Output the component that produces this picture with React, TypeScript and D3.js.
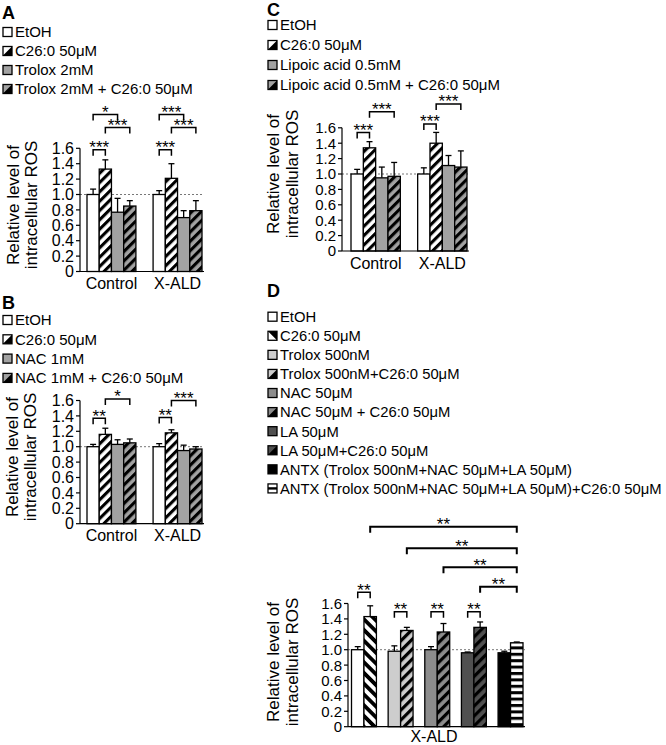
import React from "react";
import * as d3 from "d3";

const FONT = "'Liberation Sans', Arial, Helvetica, sans-serif";

// ---------------- data ----------------
const tickValues = [0, 0.2, 0.4, 0.6, 0.8, 1.0, 1.2, 1.4, 1.6];
const tickLabels = ["0", "0.2", "0.4", "0.6", "0.8", "1.0", "1.2", "1.4", "1.6"];
const groups = ["Control", "X-ALD"];

const seriesA = ["EtOH", "C26:0 50μM", "Trolox 2mM", "Trolox 2mM + C26:0 50μM"];
const meansA = [[1.0, 1.33, 0.77, 0.85], [1.0, 1.21, 0.70, 0.79]];
const errsA = [[0.07, 0.12, 0.18, 0.07], [0.05, 0.19, 0.09, 0.13]];
const bracketsA = [
  { group: 0, from: 0, to: 1, level: 1.58, label: "***" },
  { group: 0, from: 0, to: 2, level: 2.04, label: "*" },
  { group: 0, from: 1, to: 3, level: 1.87, label: "***" },
  { group: 1, from: 0, to: 1, level: 1.58, label: "***" },
  { group: 1, from: 0, to: 2, level: 2.04, label: "***" },
  { group: 1, from: 1, to: 3, level: 1.87, label: "***" },
];

const seriesB = ["EtOH", "C26:0 50μM", "NAC 1mM", "NAC 1mM + C26:0 50μM"];
const meansB = [[1.0, 1.16, 1.03, 1.05], [1.0, 1.18, 0.95, 0.97]];
const errsB = [[0.03, 0.08, 0.06, 0.05], [0.04, 0.04, 0.07, 0.03]];
const bracketsB = [
  { group: 0, from: 0, to: 1, level: 1.37, label: "**" },
  { group: 0, from: 1, to: 3, level: 1.62, label: "*" },
  { group: 1, from: 0, to: 1, level: 1.38, label: "**" },
  { group: 1, from: 1, to: 3, level: 1.60, label: "***" },
];

const seriesC = ["EtOH", "C26:0 50μM", "Lipoic acid 0.5mM", "Lipoic acid 0.5mM + C26:0 50μM"];
const meansC = [[1.0, 1.34, 0.95, 0.97], [1.0, 1.40, 1.11, 1.09]];
const errsC = [[0.06, 0.08, 0.14, 0.18], [0.08, 0.14, 0.13, 0.21]];
const bracketsC = [
  { group: 0, from: 0, to: 1, level: 1.54, label: "***" },
  { group: 0, from: 1, to: 3, level: 1.81, label: "***" },
  { group: 1, from: 0, to: 1, level: 1.65, label: "***" },
  { group: 1, from: 1, to: 3, level: 1.91, label: "***" },
];

const seriesD = [
  "EtOH",
  "C26:0 50μM",
  "Trolox 500nM",
  "Trolox 500nM+C26:0 50μM",
  "NAC 50μM",
  "NAC 50μM + C26:0 50μM",
  "LA 50μM",
  "LA 50μM+C26:0 50μM",
  "ANTX (Trolox 500nM+NAC 50μM+LA 50μM)",
  "ANTX (Trolox 500nM+NAC 50μM+LA 50μM)+C26:0 50μM",
];
const meansD = [1.0, 1.43, 0.98, 1.25, 1.0, 1.23, 0.96, 1.29, 0.96, 1.09];
const errsD = [0.04, 0.14, 0.07, 0.04, 0.04, 0.11, 0.01, 0.07, 0.02, 0.01];
const groupD = "X-ALD";
const bracketsD = [
  { from: 0, to: 1, level: 1.745, label: "**", long: false },
  { from: 2, to: 3, level: 1.494, label: "**", long: false },
  { from: 4, to: 5, level: 1.494, label: "**", long: false },
  { from: 6, to: 7, level: 1.494, label: "**", long: false },
  { from: 1, to: 9, level: 2.597, label: "**", long: true },
  { from: 3, to: 9, level: 2.317, label: "**", long: true },
  { from: 5, to: 9, level: 2.07, label: "**", long: true },
  { from: 7, to: 9, level: 1.818, label: "**", long: true },
];

const yTitle = ["Relative level of", "intracellular ROS"];

// ---------------- styles ----------------
const GRAY_ABC = "#a2a2a2";
const D_LIGHT = "#cdcdcd";
const D_MID = "#8c8c8c";
const D_DARK = "#505050";

type Icon = { bg: string; mark?: "/" | "\\" | "h" };
const fillsA = ["#fff", "url(#hW)", GRAY_ABC, "url(#hG)"];
const iconsABC: Icon[] = [{ bg: "#fff" }, { bg: "#fff", mark: "/" }, { bg: GRAY_ABC }, { bg: GRAY_ABC, mark: "/" }];
const fillsD = ["#fff", "url(#bW)", D_LIGHT, "url(#hL)", D_MID, "url(#hM)", D_DARK, "url(#hD)", "#000", "url(#hz)"];
const iconsD: Icon[] = [
  { bg: "#fff" }, { bg: "#fff", mark: "\\" }, { bg: D_LIGHT }, { bg: D_LIGHT, mark: "/" },
  { bg: D_MID }, { bg: D_MID, mark: "/" }, { bg: D_DARK }, { bg: D_DARK, mark: "/" },
  { bg: "#000" }, { bg: "#fff", mark: "h" },
];

const PX_PER_UNIT = 77;
const STAR_FS = 17;

function Defs() {
  const diag = (id: string, bg: string, angle: number, p: number, sw: number) => (
    <pattern id={id} patternUnits="userSpaceOnUse" width={p} height={p} patternTransform={`rotate(${angle})`}>
      <rect width={p} height={p} fill={bg} />
      <rect width={sw} height={p} fill="#000" />
    </pattern>
  );
  return (
    <defs>
      {diag("hW", "#fff", 45, 6.6, 3.1)}
      {diag("hG", GRAY_ABC, 45, 6.6, 3.1)}
      {diag("bW", "#fff", -45, 7.6, 3.8)}
      {diag("hL", D_LIGHT, 45, 7, 3.2)}
      {diag("hM", D_MID, 45, 7, 3.2)}
      {diag("hD", D_DARK, 45, 7, 3.2)}
      <pattern id="hz" patternUnits="userSpaceOnUse" width={6} height={6.4}>
        <rect width={6} height={6.4} fill="#fff" />
        <rect width={6} height={3} fill="#000" />
      </pattern>
    </defs>
  );
}

function LegendIcon({ x, y, s, icon }: { x: number; y: number; s: number; icon: Icon }) {
  let mark: React.ReactNode = null;
  if (icon.mark === "/") mark = <polygon points={`${x + s},${y} ${x + s},${y + s} ${x},${y + s}`} fill="#000" />;
  if (icon.mark === "\\") mark = <polygon points={`${x},${y} ${x + s},${y} ${x + s},${y + s}`} fill="#000" />;
  if (icon.mark === "h") mark = <rect x={x} y={y + s / 2 - 1.2} width={s} height={2.4} fill="#000" />;
  return (
    <g>
      <rect x={x} y={y} width={s} height={s} fill={icon.bg} />
      {mark}
      <rect x={x} y={y} width={s} height={s} fill="none" stroke="#000" strokeWidth={1.3} />
    </g>
  );
}

function Legend({ labels, icons, x, y0, step, fs }: { labels: string[]; icons: Icon[]; x: number; y0: number; step: number; fs: number }) {
  return (
    <g>
      {labels.map((l, i) => {
        const cy = y0 + i * step;
        return (
          <g key={i}>
            <LegendIcon x={x} y={cy - 4.5} s={9} icon={icons[i]} />
            <text x={x + 12} y={cy + 0.36 * fs} fontSize={fs} fill="#000">{l}</text>
          </g>
        );
      })}
    </g>
  );
}

function YAxis({ y, axisX, fs }: { y: d3.ScaleLinear<number, number>; axisX: number; fs: number }) {
  return (
    <g>
      <line x1={axisX} x2={axisX} y1={y(0)} y2={y(1.6)} stroke="#000" strokeWidth={1.2} />
      {tickValues.map((v, i) => (
        <g key={i}>
          <line x1={axisX - 4} x2={axisX} y1={y(v)} y2={y(v)} stroke="#000" strokeWidth={1.2} />
          <text x={axisX - 6} y={y(v) + 0.36 * fs} fontSize={fs} textAnchor="end">{tickLabels[i]}</text>
        </g>
      ))}
    </g>
  );
}

function YTitle({ x1, x2, cy, fs }: { x1: number; x2: number; cy: number; fs: number }) {
  return (
    <g>
      {[x1, x2].map((x, i) => (
        <text key={i} transform={`translate(${x},${cy}) rotate(-90)`} dy="0.36em" textAnchor="middle" fontSize={fs}>
          {yTitle[i]}
        </text>
      ))}
    </g>
  );
}

function Bracket({ x1, x2, top, label, sw, leg }: { x1: number; x2: number; top: number; label: string; sw: number; leg: number }) {
  return (
    <g>
      <path d={`M${x1},${top + leg}V${top}H${x2}V${top + leg}`} fill="none" stroke="#000" strokeWidth={sw} />
      <text x={(x1 + x2) / 2} y={top + 3.5} fontSize={STAR_FS} textAnchor="middle">{label}</text>
    </g>
  );
}

type GLayout = {
  letter: string; letterX: number; letterY: number;
  legendX: number; legendY: number; legendStep: number;
  axisX: number; barStart: number; barEnd: number; xEnd: number; y0: number;
  tickFs: number; titleX1: number; titleX2: number; titleCy: number;
};

function GroupPanel({ L, series, means, errs, fills, icons, brackets }: {
  L: GLayout; series: string[]; means: number[][]; errs: number[][]; fills: string[]; icons: Icon[];
  brackets: { group: number; from: number; to: number; level: number; label: string }[];
}) {
  const y = d3.scaleLinear().domain([0, 1.6]).range([L.y0, L.y0 - 1.6 * PX_PER_UNIT]);
  const outer = d3.scaleBand<string>().domain(groups).range([L.barStart, L.barEnd]).paddingInner(0.26).paddingOuter(0);
  const inner = d3.scaleBand<number>().domain(d3.range(series.length)).range([0, outer.bandwidth()]);
  const cx = (g: number, s: number) => (outer(groups[g]) as number) + (inner(s) as number) + inner.bandwidth() / 2;
  return (
    <g>
      <text x={L.letterX} y={L.letterY} fontSize={18} fontWeight="bold">{L.letter}</text>
      <Legend labels={series} icons={icons} x={L.legendX} y0={L.legendY} step={L.legendStep} fs={15} />
      <line x1={L.axisX} x2={L.xEnd} y1={y(1)} y2={y(1)} stroke="#777" strokeDasharray="2,2" strokeWidth={1} />
      {groups.map((g, gi) => (
        <g key={g}>
          {series.map((_, si) => {
            const x = (outer(g) as number) + (inner(si) as number);
            const w = inner.bandwidth();
            const m = means[gi][si];
            const e = errs[gi][si];
            return (
              <g key={si}>
                <line x1={x + w / 2} x2={x + w / 2} y1={y(m)} y2={y(m + e)} stroke="#000" strokeWidth={1.3} />
                <line x1={x + w / 2 - 3} x2={x + w / 2 + 3} y1={y(m + e)} y2={y(m + e)} stroke="#000" strokeWidth={1.3} />
                <rect x={x} y={y(m)} width={w} height={y(0) - y(m)} fill={fills[si]} stroke="#000" strokeWidth={1.3} />
              </g>
            );
          })}
          <text x={(outer(g) as number) + outer.bandwidth() / 2} y={L.y0 + 17.5} fontSize={16} textAnchor="middle">{g}</text>
        </g>
      ))}
      <line x1={L.axisX} x2={L.xEnd} y1={y(0)} y2={y(0)} stroke="#000" strokeWidth={1.2} />
      <YAxis y={y} axisX={L.axisX} fs={L.tickFs} />
      <YTitle x1={L.titleX1} x2={L.titleX2} cy={L.titleCy} fs={17} />
      {brackets.map((b, i) => (
        <Bracket key={i} x1={cx(b.group, b.from)} x2={cx(b.group, b.to)} top={y(b.level)} label={b.label} sw={1.5} leg={6} />
      ))}
    </g>
  );
}

const layoutA: GLayout = {
  letter: "A", letterX: 2, letterY: 19, legendX: 3, legendY: 32, legendStep: 19,
  axisX: 80, barStart: 87, barEnd: 202, xEnd: 204, y0: 271.5,
  tickFs: 16, titleX1: 13, titleX2: 31, titleCy: 205,
};
const layoutB: GLayout = {
  letter: "B", letterX: 2, letterY: 309, legendX: 3, legendY: 320, legendStep: 19.3,
  axisX: 80, barStart: 87, barEnd: 202, xEnd: 204, y0: 523.7,
  tickFs: 16, titleX1: 12, titleX2: 30, titleCy: 457,
};
const layoutC: GLayout = {
  letter: "C", letterX: 267, letterY: 16, legendX: 268, legendY: 25, legendStep: 20,
  axisX: 342, barStart: 351, barEnd: 467, xEnd: 469, y0: 251,
  tickFs: 15, titleX1: 273, titleX2: 292, titleCy: 174,
};

function PanelD() {
  const y0 = 726.7;
  const axisX = 348;
  const y = d3.scaleLinear().domain([0, 1.6]).range([y0, y0 - 1.6 * PX_PER_UNIT]);
  const pairs = d3.range(seriesD.length / 2);
  const outer = d3.scaleBand<number>().domain(pairs).range([351.5, 523]).paddingInner(0.32).paddingOuter(0);
  const inner = d3.scaleBand<number>().domain([0, 1]).range([0, outer.bandwidth()]);
  const bx = (i: number) => (outer(Math.floor(i / 2)) as number) + (inner(i % 2) as number);
  const w = inner.bandwidth();
  return (
    <g>
      <text x={267} y={297} fontSize={18} fontWeight="bold">D</text>
      <Legend labels={seriesD} icons={iconsD} x={268} y0={316.7} step={19.08} fs={14.8} />
      <line x1={axisX} x2={525} y1={y(1)} y2={y(1)} stroke="#777" strokeDasharray="2,2" strokeWidth={1} />
      {seriesD.map((_, i) => {
        const x = bx(i);
        const m = meansD[i];
        const e = errsD[i];
        return (
          <g key={i}>
            <line x1={x + w / 2} x2={x + w / 2} y1={y(m)} y2={y(m + e)} stroke="#000" strokeWidth={1.3} />
            <line x1={x + w / 2 - 3} x2={x + w / 2 + 3} y1={y(m + e)} y2={y(m + e)} stroke="#000" strokeWidth={1.3} />
            <rect x={x} y={y(m)} width={w} height={y(0) - y(m)} fill={fillsD[i]} stroke="#000" strokeWidth={1.3} />
          </g>
        );
      })}
      <line x1={axisX} x2={525} y1={y(0)} y2={y(0)} stroke="#000" strokeWidth={1.2} />
      <text x={434} y={y0 + 15.5} fontSize={16} textAnchor="middle">{groupD}</text>
      <YAxis y={y} axisX={axisX} fs={15} />
      <YTitle x1={273} x2={292} cy={662} fs={17} />
      {bracketsD.map((b, i) => (
        <Bracket key={i} x1={bx(b.from) + w / 2} x2={bx(b.to) + w / 2} top={y(b.level)} label={b.label}
          sw={b.long ? 2 : 1.5} leg={6} />
      ))}
    </g>
  );
}

export default function App() {
  return (
    <svg width={666} height={745} style={{ position: "absolute", left: 0, top: 0 }} fontFamily={FONT}>
      <rect width={666} height={745} fill="#fff" />
      <Defs />
      <GroupPanel L={layoutA} series={seriesA} means={meansA} errs={errsA} fills={fillsA} icons={iconsABC} brackets={bracketsA} />
      <GroupPanel L={layoutB} series={seriesB} means={meansB} errs={errsB} fills={fillsA} icons={iconsABC} brackets={bracketsB} />
      <GroupPanel L={layoutC} series={seriesC} means={meansC} errs={errsC} fills={fillsA} icons={iconsABC} brackets={bracketsC} />
      <PanelD />
    </svg>
  );
}
